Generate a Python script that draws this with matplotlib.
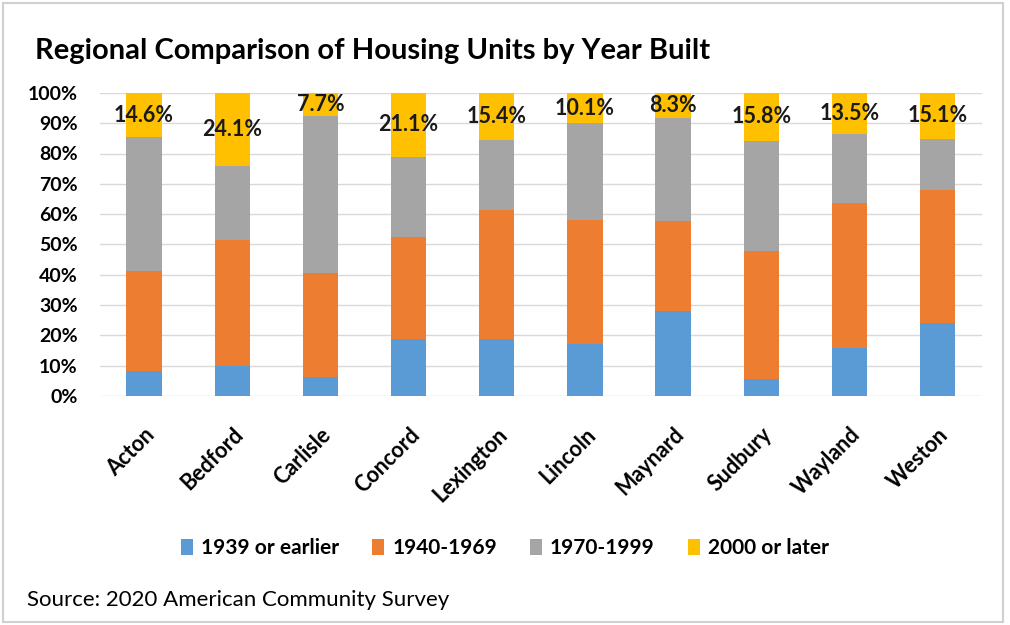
import numpy as np
import matplotlib.pyplot as plt
from matplotlib.patches import Rectangle

plt.rcParams['font.family'] = ['Lato', 'DejaVu Sans']

towns = ['Acton', 'Bedford', 'Carlisle', 'Concord', 'Lexington',
         'Lincoln', 'Maynard', 'Sudbury', 'Wayland', 'Weston']
pre1940 = [8.3, 10.0, 6.2, 18.7, 18.7, 17.1, 27.9, 5.6, 15.7, 24.0]
y1940_1969 = [33.0, 41.4, 34.3, 33.9, 42.8, 41.0, 29.7, 42.3, 48.0, 44.1]
y1970_1999 = [44.1, 24.5, 51.8, 26.3, 23.1, 31.8, 34.1, 36.3, 22.8, 16.8]
y2000_later = [14.6, 24.1, 7.7, 21.1, 15.4, 10.1, 8.3, 15.8, 13.5, 15.1]

series = [pre1940, y1940_1969, y1970_1999, y2000_later]
names = ['1939 or earlier', '1940-1969', '1970-1999', '2000 or later']
colors = ['#5B9BD5', '#ED7D31', '#A5A5A5', '#FFC000']

fig = plt.figure(figsize=(10.1, 6.25), dpi=100)
ax = fig.add_axes([0.099, 0.3664, 0.873, 0.485])

x = np.arange(len(towns))
bottom = np.zeros(len(towns))
for vals, name, c in zip(series, names, colors):
    ax.bar(x, vals, 0.4, bottom=bottom, color=c, label=name, zorder=2)
    bottom += np.array(vals)

# labels for the newest segment, centered in the yellow block
base = np.array(pre1940) + np.array(y1940_1969) + np.array(y1970_1999)
for xi, b, v in zip(x, base, y2000_later):
    ax.text(xi, b + v / 2, '%.1f%%' % v, ha='center', va='center',
            fontsize=15.5, fontweight='bold', color='#1a1a1a', zorder=3)

ax.set_xlim(-0.5, len(towns) - 0.5)
ax.set_ylim(0, 100)
ax.set_yticks(np.arange(0, 101, 10))
ax.set_yticklabels(['%d%%' % t for t in range(0, 101, 10)],
                   fontsize=14, fontweight='bold')
ax.set_xticks(x)
ax.set_xticklabels(towns, rotation=45, ha='right', va='top',
                   rotation_mode='anchor', fontsize=15.5, fontweight='bold')
ax.tick_params(axis='y', length=0, pad=16)
ax.tick_params(axis='x', length=0, pad=20)
ax.yaxis.grid(True, color='#D9D9D9', linewidth=1, zorder=0)
for s in ax.spines.values():
    s.set_visible(False)

fig.text(0.035, 0.918, 'Regional Comparison of Housing Units by Year Built',
         fontsize=21, fontweight='bold', va='center')
fig.legend(loc='center', bbox_to_anchor=(0.5, 0.123), ncol=4, frameon=False,
           prop={'weight': 'bold', 'size': 15},
           handlelength=0.55, handleheight=0.8, columnspacing=1.6,
           handletextpad=0.4)
fig.text(0.027, 0.04, 'Source: 2020 American Community Survey',
         fontsize=16, va='center')

fig.patches.append(Rectangle((0.003, 0.005), 0.99, 0.99, transform=fig.transFigure,
                             fill=False, edgecolor='#D0D0D0', linewidth=1.5))

fig.savefig('out.png', dpi=100)
